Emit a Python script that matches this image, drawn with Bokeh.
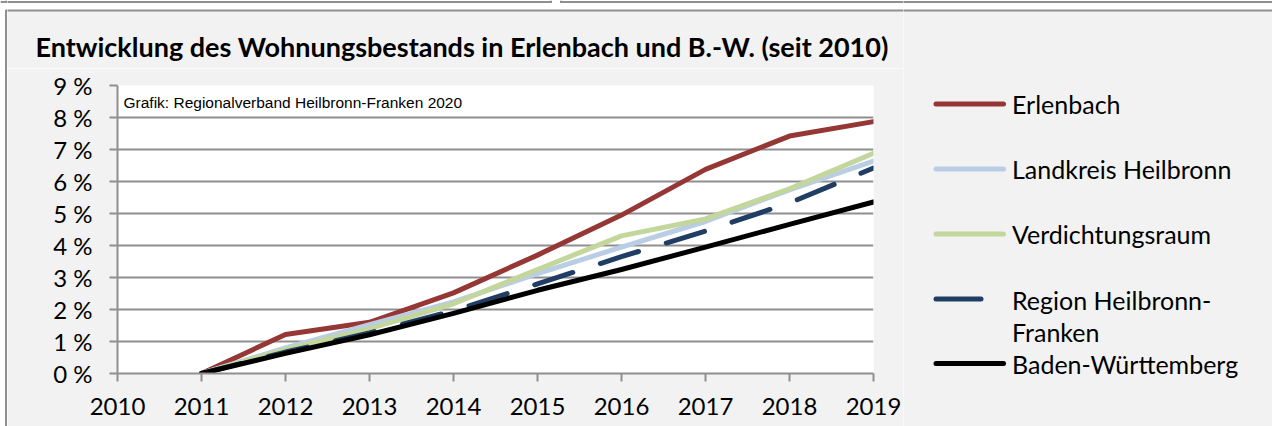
from bokeh.plotting import figure
from bokeh.layouts import row, column
from bokeh.models import Range1d, FixedTicker
from bokeh.core.properties import value
from bokeh.embed import file_html
from bokeh.resources import INLINE

# ---------------- data ----------------
years = [2011, 2012, 2013, 2014, 2015, 2016, 2017, 2018, 2019]
erlenbach = [0, 1.22, 1.60, 2.52, 3.70, 4.95, 6.38, 7.42, 7.87]
landkreis = [0, 0.80, 1.53, 2.24, 3.12, 3.95, 4.75, 5.74, 6.64]
verdichtungsraum = [0, 0.75, 1.40, 2.18, 3.25, 4.30, 4.83, 5.77, 6.88]
region = [0, 0.67, 1.27, 1.96, 2.80, 3.65, 4.45, 5.33, 6.42]
bw = [0, 0.63, 1.21, 1.88, 2.60, 3.25, 3.95, 4.66, 5.36]

x_ticks = [2010, 2011, 2012, 2013, 2014, 2015, 2016, 2017, 2018, 2019]
y_ticks = [0, 1, 2, 3, 4, 5, 6, 7, 8, 9]
y_tick_labels = ["0 %", "1 %", "2 %", "3 %", "4 %", "5 %", "6 %", "7 %", "8 %", "9 %"]

series_names = ["Erlenbach", "Landkreis Heilbronn", "Verdichtungsraum",
                "Region Heilbronn-\nFranken", "Baden-Württemberg"]
series_values = [erlenbach, landkreis, verdichtungsraum, region, bw]
series_colors = ["#953735", "#b9cde5", "#c3d69b", "#203d63", "#000000"]
series_dash = ["solid", "solid", "solid", "40 29", "solid"]

title_text = "Entwicklung des Wohnungsbestands in Erlenbach und B.-W. (seit 2010)"
source_text = "Grafik: Regionalverband Heilbronn-Franken 2020"

# ---------------- layout constants ----------------
W, H = 1272, 426
STRIP_W = 7                 # left border strip (full height)
TOP_H = 68                  # title strip above the chart
FRAME_L, FRAME_T = 117, 85  # frame position on the page
FRAME_W, FRAME_H = 756, 288
MID_W = FRAME_L - STRIP_W + FRAME_W + 30
MAIN_H = H - TOP_H
LEG_W = W - STRIP_W - MID_W
BG = "#f2f2f2"
EDGE = "#8f8f8f"
FONT = "Lato"


def pixel_fig(w, h, bg):
    f = figure(width=w, height=h, x_range=Range1d(0, w), y_range=Range1d(h, 0),
               x_axis_type=None, y_axis_type=None, min_border=0, title=None,
               output_backend="svg", toolbar_location=None,
               background_fill_color=bg, border_fill_color=bg)
    f.outline_line_color = None
    f.grid.visible = False
    return f


def box_edges(f, ox):
    """outer frame edges drawn in page px, shifted by the panel's page x offset"""
    f.quad(left=[5 - ox], right=[W - ox], top=[9.5], bottom=[H], fill_color=BG, line_color=None)
    f.segment(x0=[0 - ox, 560 - ox, 5 - ox, 5.5 - ox, 550.5 - ox, 560.5 - ox, 5.5 - ox],
              y0=[1.5, 1.5, 10, 9.5, 0, 0, 0],
              x1=[551 - ox, W - ox, W - ox, 5.5 - ox, 550.5 - ox, 560.5 - ox, 5.5 - ox],
              y1=[1.5, 1.5, 10, H, 2.5, 2.5, 2.5],
              line_color=EDGE, line_width=2)


# ---------------- left edge strip ----------------
strip = pixel_fig(STRIP_W, H, "#ffffff")
box_edges(strip, 0)

# ---------------- title strip ----------------
top = pixel_fig(MID_W, TOP_H, "#ffffff")
box_edges(top, STRIP_W)
top.text(x=[35 - STRIP_W], y=[46], text=[title_text], text_font=value(FONT),
         text_font_style="bold", text_font_size=value("27px"),
         text_baseline="alphabetic", text_color="#000000")

# ---------------- main chart ----------------
X0, X1, Y0, Y1 = 2010, 2019, 0, 9
fig = figure(frame_width=FRAME_W, frame_height=FRAME_H,
             min_border_left=FRAME_L - STRIP_W, min_border_right=MID_W - (FRAME_L - STRIP_W) - FRAME_W,
             min_border_top=FRAME_T - TOP_H, min_border_bottom=H - FRAME_T - FRAME_H,
             x_range=Range1d(X0, X1), y_range=Range1d(Y0, Y1),
             output_backend="svg", toolbar_location=None,
             background_fill_color="white", border_fill_color=BG)
fig.outline_line_color = None

for ax in (fig.xaxis[0], fig.yaxis[0]):
    ax.axis_line_color = EDGE
    ax.axis_line_width = 2
    ax.major_tick_line_color = EDGE
    ax.major_tick_line_width = 2
    ax.major_tick_out = 8
    ax.major_tick_in = 0
    ax.minor_tick_line_color = None
    ax.major_label_text_font = FONT
    ax.major_label_text_font_size = "24px"
    ax.major_label_text_color = "#000000"

fig.xaxis.ticker = FixedTicker(ticks=x_ticks)
fig.xaxis.major_label_standoff = 16
fig.yaxis.ticker = FixedTicker(ticks=y_ticks)
fig.yaxis.major_label_overrides = {t: l for t, l in zip(y_ticks, y_tick_labels)}
fig.yaxis.major_label_standoff = 17

fig.xgrid.grid_line_color = None
fig.ygrid.ticker = FixedTicker(ticks=y_ticks)
fig.ygrid.grid_line_color = EDGE
fig.ygrid.grid_line_width = 2

for vals, col, dash in zip(series_values, series_colors, series_dash):
    fig.line(years, vals, line_color=col, line_width=5, line_dash=dash,
             line_cap="round", line_join="round")

# source note inside the frame (6 px right of the frame edge, near its top)
fig.text(x=[X0 + 6 * (X1 - X0) / FRAME_W], y=[Y1 - 16.5 * (Y1 - Y0) / FRAME_H],
         text=[source_text], text_font=value("Liberation Sans"),
         text_font_size=value("15.5px"), text_baseline="alphabetic",
         text_color="#000000")

# ---------------- legend panel (full height) ----------------
ox = STRIP_W + MID_W
leg = pixel_fig(LEG_W, H, "#ffffff")
box_edges(leg, ox)
line_y = [103.5, 168.5, 233.5, 298.5, 363]
base_y = [103, 168, 233, 299, 363]
for i, (name, col, dash) in enumerate(zip(series_names, series_colors, series_dash)):
    x_end = 980.5 if dash != "solid" else 1003
    leg.segment(x0=[935.5 - ox], y0=[line_y[i]], x1=[x_end - ox], y1=[line_y[i]],
                line_color=col, line_width=5, line_cap="round")
    parts = name.split("\n")
    leg.text(x=[1011.5 - ox] * len(parts),
             y=[base_y[i] + 32 * j for j in range(len(parts))],
             text=parts, text_font=value(FONT), text_font_size=value("25px"),
             text_baseline="alphabetic", text_color="#000000")

p = row(strip, column(row(top), fig, spacing=0), leg, spacing=0)

open("out.html", "w").write(file_html(p, INLINE))
